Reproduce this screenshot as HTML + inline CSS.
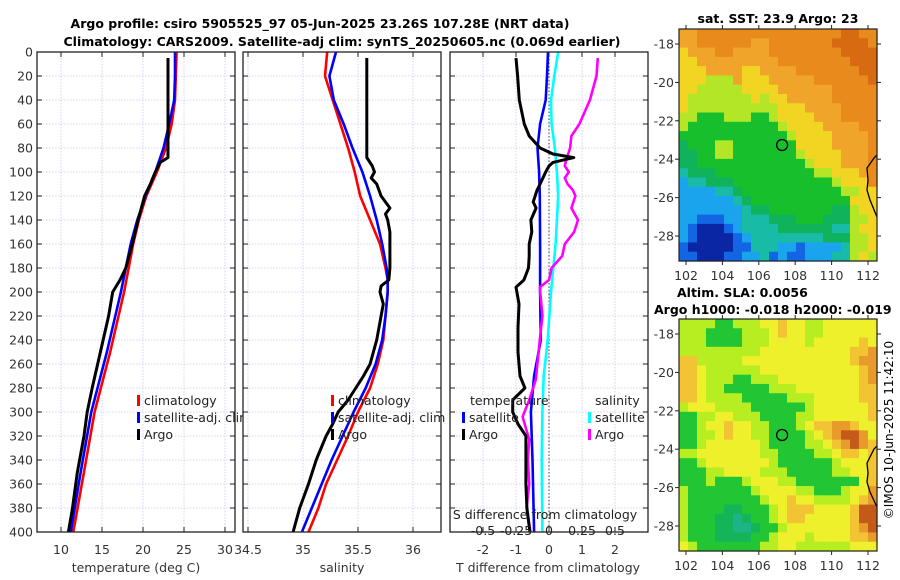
<!DOCTYPE html>
<html><head><meta charset="utf-8"><style>
html,body{margin:0;padding:0;background:#fff;}
svg{display:block;font-family:"DejaVu Sans","Liberation Sans",sans-serif;}
</style></head><body>
<svg id="fig" width="900" height="580" viewBox="0 0 900 580" xmlns="http://www.w3.org/2000/svg">
<text x="320" y="28" font-size="12.5" font-weight="bold" text-anchor="middle">Argo profile: csiro 5905525_97 05-Jun-2025 23.26S 107.28E (NRT data)</text>
<text x="342" y="46" font-size="12.5" font-weight="bold" text-anchor="middle">Climatology: CARS2009. Satellite-adj clim: synTS_20250605.nc (0.069d earlier)</text>
<g id="g1"></g>
<g id="g2"></g>
<g id="g3"></g>
<g id="m1"></g>
<g id="m2"></g>
<text x="778" y="23" font-size="12.5" font-weight="bold" text-anchor="middle">sat. SST: 23.9 Argo: 23</text>
<text x="677" y="297" font-size="12.5" font-weight="bold">Altim. SLA: 0.0056</text>
<text x="654" y="314" font-size="12.5" font-weight="bold">Argo h1000: -0.018 h2000: -0.019</text>
<text x="0" y="0" font-size="12" text-anchor="middle" transform="translate(893,430) rotate(-90)">©IMOS 10-Jun-2025 11:42:10</text>
</svg>
<script>
const NS='http://www.w3.org/2000/svg';
// ---------- data ----------
const depthTicks=[0,20,40,60,80,100,120,140,160,180,200,220,240,260,280,300,320,340,360,380,400];
const tempTicks=[10,15,20,25,30];
const salTicks=[34.5,35,35.5,36];
const dTTicks=[-2,-1,0,1,2];
const dSTicks=[-0.5,-0.25,0,0.25,0.5];
const dSTickLabels=['-0.5','-0.25','0','0.25','0.5'];

const climDepth=[0,20,40,60,80,100,120,140,160,200,250,300,350,400];
const tempClim=[24.1,24.0,23.9,23.5,22.8,21.7,20.4,19.5,18.8,17.7,16.0,14.1,12.8,11.5];
const tempSat=[23.9,23.9,23.8,23.2,22.5,21.5,20.3,19.3,18.5,17.3,15.6,13.7,12.4,11.2];
const argoTDepth=[5,88,92,100,110,120,140,160,180,190,200,220,250,280,300,320,350,380,400];
const tempArgo=[23.05,23.05,22.1,21.5,20.9,20.2,19.4,18.7,17.9,17.2,16.3,15.8,14.8,13.8,13.2,12.8,12.0,11.4,10.9];

const salDepth=[0,20,40,60,80,100,120,140,160,180,190,200,220,240,260,280,300,320,340,360,380,400];
const salClim=[35.22,35.20,35.27,35.34,35.41,35.47,35.52,35.61,35.70,35.75,35.77,35.77,35.75,35.73,35.68,35.61,35.50,35.41,35.31,35.21,35.14,35.05];
const salSat=[35.30,35.24,35.28,35.37,35.45,35.54,35.61,35.67,35.72,35.76,35.77,35.77,35.75,35.72,35.66,35.57,35.46,35.36,35.26,35.17,35.08,34.99];
const argoSDepth=[5,88,95,100,105,110,120,130,135,140,150,160,180,190,195,200,210,220,240,260,270,280,290,300,310,320,340,360,380,400];
const salArgo=[35.58,35.58,35.63,35.65,35.62,35.67,35.71,35.79,35.75,35.77,35.79,35.79,35.79,35.78,35.71,35.70,35.73,35.71,35.67,35.61,35.55,35.48,35.41,35.32,35.27,35.21,35.12,35.05,34.97,34.91];

const dDepth=[0,20,40,60,80,100,120,160,200,240,270,300,340,400];
const dTSat=[-0.03,-0.06,-0.1,-0.27,-0.35,-0.3,-0.28,-0.27,-0.27,-0.25,-0.45,-0.55,-0.5,-0.45];
const dSSat=[0.07,0.04,0.015,0.02,0.045,0.06,0.07,0.05,0.015,-0.01,-0.04,-0.05,-0.055,-0.05];
const dSDepth=[5,20,40,60,70,80,90,95,100,105,110,115,120,130,140,150,160,170,180,190,196,220,240,273,290,304,323,340,360,380,400];
const dSArgo=[0.37,0.36,0.31,0.23,0.17,0.16,0.13,0.12,0.15,0.12,0.14,0.18,0.2,0.17,0.22,0.19,0.12,0.1,0.02,0.0,-0.07,-0.05,-0.07,-0.1,-0.15,-0.2,-0.15,-0.16,-0.15,-0.17,-0.14];
const dTDepth=[5,20,40,60,70,80,85,88,92,95,100,110,115,125,130,140,150,160,170,180,190,196,210,230,250,270,280,290,300,310,320,340,360,380,400];
const dTArgo=[-1.0,-0.95,-0.9,-0.75,-0.6,-0.27,0.12,0.75,0.12,0.0,-0.1,-0.27,-0.36,-0.48,-0.39,-0.55,-0.52,-0.6,-0.6,-0.62,-0.76,-1.0,-0.91,-0.94,-0.94,-0.88,-0.73,-1.1,-1.1,-0.94,-0.7,-0.7,-0.7,-0.67,-0.58];

const lonTicks=[102,104,106,108,110,112];
const latTicks=[-18,-20,-22,-24,-26,-28];
const argoLon=107.28, argoLat=-23.26;
const sstGrid=[
"ooOOOOOOOOOOOOOOOODDOO","ooOOOOOOooOOOOOOODDDDO","yoooOOooooOOOOOOOODDDD","yyoooooooooOOOOOOOODDD",
"yyyooooyyooooOOOOOOODD","yyyllloyyyoooooOOOOOOD","yylllllyyyyooooooOOOOO","ylllllllylyyoooooOOOOO",
"yllllllllllyyyooooOOOO","llggglllgglyyyyoooOOOO","lgggggggggglyyyyooooOO","gggggggggggglyyyyooooO",
"GgggllgggggggyyyyooooO","GGggllggggggglyyyyoooO","GGgggggggggggglyyyoooO","tGGGgggggggggggllyyyoO",
"cttGGGggggggggggglyyyO","ccccttGgggggggggggllyy","cccccctGgggggggggggyyy","ccccccctGGgggggggGGlyy",
"ccbbbcctttGGGgggGGGlly","cbnnnbcttttGGGGGGttlyy","cbnnnnbcttttttttGGGlly","bnnnnnbbtttccbcccctlly","bbnnnbbcctbcbbcccttlyl"];
const slaGrid=[
"llllgglllYYoYYllYYYYYY","lllgggglllYoYYllYYYYYY","lllgggglllYYYYlYYYYYoY","lllllllllYYYYYYYYYYooO",
"oolllllYYYYYYYYYYYYoOO","ooYllllllYYYYYYYYYYYoO","ooYlllgglllYYYYYYYYYoO","ooYllggggglllYYYYYYYoo",
"ooYllllggggglllYYYYYoo","lYYYllllgggggglYYYYYYo","ggllYYlllggggllYYYYYYo","gglYYoYYllggglYooOOoYY",
"ggllYoYYllgggglYoODDOY","gglYYYYYYlggggllYoODOo","llYYYYYYYllggggllYooYo","gglYYYYYYYlgggggglYYYo",
"gggllYYYYlllgggggllYYo","ggglggglYYYllgggggggYo","lggggggglYYYYllggglYYO","lgggggggglYYoYYllllYoO",
"lggggGGggglYoooYYYYoDD","lgggGGtGgglYooYYYYYoDD","lgggGGttGgglYYYYYYYoOD","lgggGGGGgglYYYlYYYYooO","YlgggggggllYYllllllYYY"];

// ---------- helpers ----------
function mk(tag,attrs,parent){const e=document.createElementNS(NS,tag);for(const k in attrs)e.setAttribute(k,attrs[k]);parent.appendChild(e);return e;}
const Y0=52,Y1=532;
const yD=d=>Y0+(d-0)*(Y1-Y0)/400;
function lin(d0,d1,r0,r1){return v=>r0+(v-d0)*(r1-r0)/(d1-d0);}

function panel(g,x0,x1,xs,ticks,labels,showY){
  mk('rect',{x:x0,y:Y0,width:x1-x0,height:Y1-Y0,fill:'#fff'},g);
  ticks.forEach((t,i)=>{const x=xs(t);
    const l=mk('line',{x1:x,x2:x,y1:Y0,y2:Y1,stroke:'#c8c8f0','stroke-width':0.8,'stroke-dasharray':'1.5,1.5'},g);
    
    
    if(labels){const tx=mk('text',{x:x,y:554,'font-size':12.5,'text-anchor':'middle',fill:'#333'},g);tx.textContent=labels[i];
    
    }
    mk('line',{x1:x,x2:x,y1:Y1,y2:Y1-5,stroke:'#222'},g);mk('line',{x1:x,x2:x,y1:Y0,y2:Y0+5,stroke:'#222'},g);
  });
  depthTicks.forEach(d=>{const y=yD(d);
    const l=mk('line',{x1:x0,x2:x1,y1:y,y2:y,stroke:'#c8c8f0','stroke-width':0.8,'stroke-dasharray':'1.5,1.5'},g);
    
    
    mk('line',{x1:x0,x2:x0+5,y1:y,y2:y,stroke:'#222'},g);mk('line',{x1:x1,x2:x1-5,y1:y,y2:y,stroke:'#222'},g);
    if(showY){const t=mk('text',{x:x0-4,y:y+4.5,'font-size':12.5,'text-anchor':'end',fill:'#333'},g);t.textContent=d;
      
      }
  });
}
function frame(g,x0,x1){const r=mk('rect',{x:x0,y:Y0,width:x1-x0,height:Y1-Y0,fill:'none',stroke:'#222','stroke-width':1.3},g);
  
  }
function series(g,xs,depths,vals,color,name,w){
  const pts=depths.map((d,i)=>xs(vals[i]).toFixed(1)+','+yD(d).toFixed(1)).join(' ');
  const p=mk('polyline',{points:pts,fill:'none',stroke:color,'stroke-width':w||2.6,'stroke-linejoin':'round'},g);
  
  
}
function legend(g,x,y,items){
  items.forEach((it,i)=>{const yy=y+i*17;
    mk('rect',{x:x,y:yy-10,width:3,height:11,fill:it[1]},g);
    const t=mk('text',{x:x+7,y:yy,'font-size':12.5,fill:'#222'},g);t.textContent=it[0];
    
    });
}

// ---------- temperature panel ----------
const g1=document.getElementById('g1');
const xT=lin(10,30,61,225);
panel(g1,37,235,xT,tempTicks,tempTicks.map(String),true);
series(g1,xT,climDepth,tempClim,'#f00','temp-climatology-line');
series(g1,xT,climDepth,tempSat,'#00f','temp-satellite-line');
series(g1,xT,argoTDepth,tempArgo,'#000','temp-argo-line',3);
frame(g1,37,235);
legend(g1,137,405,[['climatology','#f00'],['satellite-adj. clim','#00f'],['Argo','#000']]);
let t=mk('text',{x:136,y:572,'font-size':12.5,'text-anchor':'middle',fill:'#333'},g1);t.textContent='temperature (deg C)';



// ---------- salinity panel ----------
const g2=document.getElementById('g2');
const xS=lin(35,36,303,413);
panel(g2,243,441,xS,salTicks,['34.5','35','35.5','36'],false);
series(g2,xS,salDepth,salClim,'#f00','sal-climatology-line');
series(g2,xS,salDepth,salSat,'#00f','sal-satellite-line');
series(g2,xS,argoSDepth,salArgo,'#000','sal-argo-line',3);
frame(g2,243,441);
legend(g2,331,405,[['climatology','#f00'],['satellite-adj. clim','#00f'],['Argo','#000']]);
t=mk('text',{x:342,y:572,'font-size':12.5,'text-anchor':'middle',fill:'#333'},g2);t.textContent='salinity';



// ---------- difference panel ----------
const g3=document.getElementById('g3');
const xdT=lin(0,1,549,582);
const xdS=lin(0,0.25,549,582);
panel(g3,450,648,xdT,dTTicks,dTTicks.map(String),false);
const zl=mk('line',{x1:549,x2:549,y1:Y0,y2:Y1,stroke:'#444','stroke-width':1,'stroke-dasharray':'1.5,2'},g3);


series(g3,xdS,dDepth,dSSat,'#0ff','sal-diff-satellite-line');
series(g3,xdT,dDepth,dTSat,'#00f','temp-diff-satellite-line');
series(g3,xdS,dSDepth,dSArgo,'#f0f','sal-diff-argo-line');
series(g3,xdT,dTDepth,dTArgo,'#000','temp-diff-argo-line',3);
frame(g3,450,648);
t=mk('text',{x:470,y:405,'font-size':12.5,fill:'#222'},g3);t.textContent='temperature';


legend(g3,462,422,[['satellite','#00f'],['Argo','#000']]);
t=mk('text',{x:595,y:405,'font-size':12.5,fill:'#222'},g3);t.textContent='salinity';


legend(g3,588,422,[['satellite','#0ff'],['Argo','#f0f']]);
t=mk('text',{x:545,y:519,'font-size':12.5,'text-anchor':'middle',fill:'#222'},g3);t.textContent='S difference from climatology';


dSTicks.forEach((v,i)=>{const tx=mk('text',{x:xdS(v),y:535,'font-size':12.5,'text-anchor':'middle',fill:'#222'},g3);tx.textContent=dSTickLabels[i];
  
  });
t=mk('text',{x:548,y:572,'font-size':12.5,'text-anchor':'middle',fill:'#333'},g3);t.textContent='T difference from climatology';



// ---------- maps ----------
const sstCol={D:'#d86a12',O:'#e88a1c',o:'#f0a42a',y:'#f2d422',l:'#b4e628',g:'#18bf2c',G:'#10b25c',t:'#18bca6',c:'#1aa4ee',b:'#1266e4',n:'#0a26a4'};
const slaCol={Y:'#eef02c',l:'#b6ee22',g:'#22c634',G:'#14b458',t:'#1eb48a',o:'#f2c434',O:'#e89a2a',D:'#c45a18'};
function map(id,y0,grid,cols,coast){
  const g=document.getElementById(id);
  const x0=679,x1=877,y1=y0+232;
  const lx=lin(102,112,686,868), ly=lin(-18,-28,y0+15,y0+207);
  const rows=grid.length, nc=22, cw=(x1-x0)/nc, rh=(y1-y0)/rows;
  grid.forEach((row,r)=>{for(let c=0;c<nc;c++){const ch=row[c]||row[row.length-1];
    mk('rect',{x:(x0+c*cw).toFixed(2),y:(y0+r*rh).toFixed(2),width:(cw+0.6).toFixed(2),height:(rh+0.6).toFixed(2),fill:cols[ch]},g);}});
  const cp=mk('polyline',{points:coast,fill:'none',stroke:'#000','stroke-width':1.3},g);
  
  
  const circ=mk('circle',{cx:lx(argoLon),cy:ly(argoLat),r:5.5,fill:'none',stroke:'#000','stroke-width':1.3},g);
  
  
  const fr=mk('rect',{x:x0,y:y0,width:x1-x0,height:y1-y0,fill:'none',stroke:'#222','stroke-width':1.2},g);
  
  
  lonTicks.forEach(v=>{const x=lx(v);mk('line',{x1:x,x2:x,y1:y1,y2:y1+4,stroke:'#222'},g);mk('line',{x1:x,x2:x,y1:y0,y2:y0-4,stroke:'#222'},g);
    const tx=mk('text',{x:x,y:y1+19,'font-size':12.5,'text-anchor':'middle',fill:'#333'},g);tx.textContent=v;
    
    });
  latTicks.forEach(v=>{const y=ly(v);mk('line',{x1:x0,x2:x0-4,y1:y,y2:y,stroke:'#222'},g);mk('line',{x1:x1,x2:x1+4,y1:y,y2:y,stroke:'#222'},g);
    const tx=mk('text',{x:x0-5,y:y+4.5,'font-size':12.5,'text-anchor':'end',fill:'#333'},g);tx.textContent=v;
    
    });
}
map('m1',29,sstGrid,sstCol,'877,155 874,158 867,168 868,180 867,190 870,200 877,217');
map('m2',319,slaGrid,slaCol,'877,446 874,449 867,463 868,473 867,482 870,492 877,507');
</script>
</body></html>
